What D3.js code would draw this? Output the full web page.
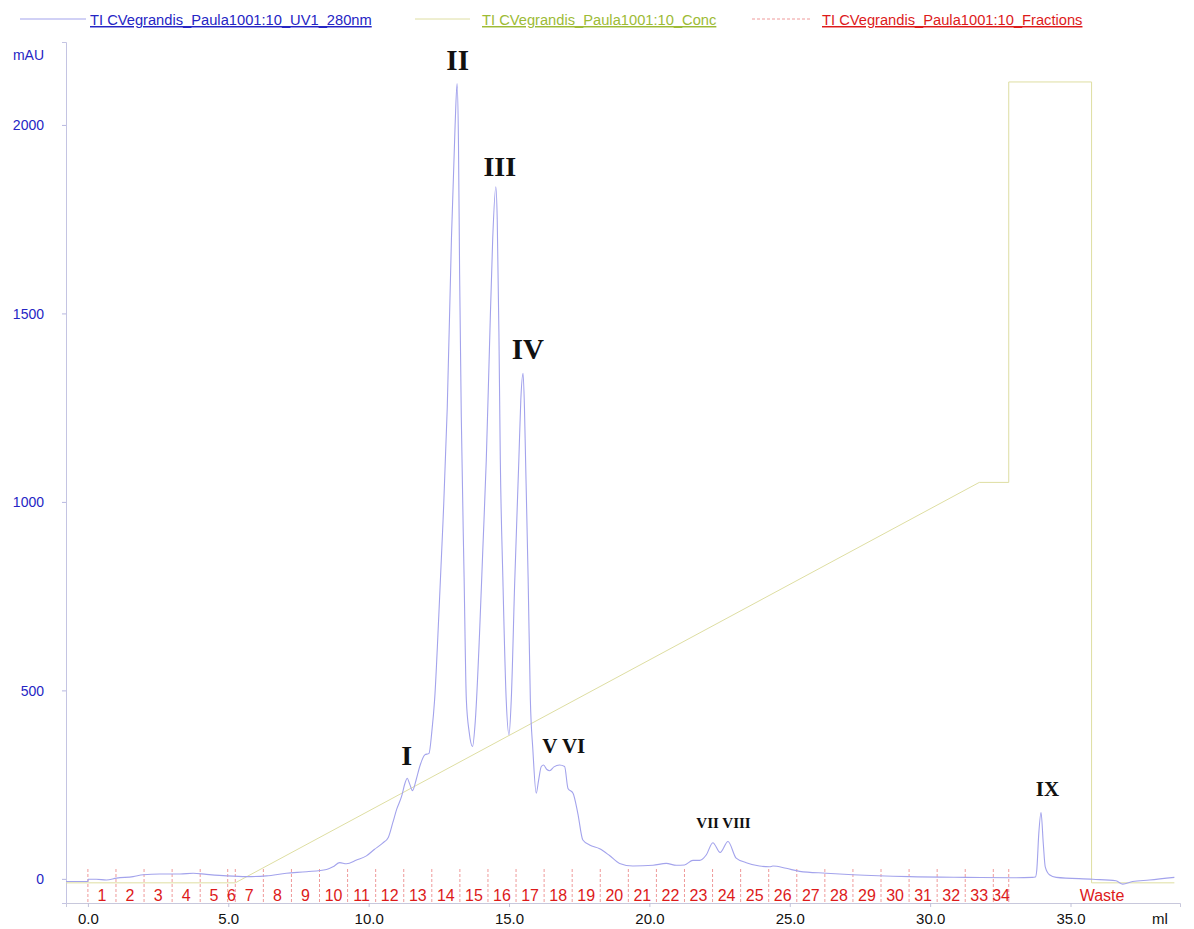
<!DOCTYPE html>
<html><head><meta charset="utf-8">
<script src="https://cdn.jsdelivr.net/npm/d3@7/dist/d3.min.js"></script>
<style>
body{margin:0;background:#fff;}
svg{display:block;}
</style>
</head><body>
<svg id="chart" width="1194" height="929"></svg>
<script>
// ---------- data ----------
const uvVolume = [-0.78,0.0,0.01,0.3,0.66,1.02,1.61,1.97,2.56,3.28,3.75,4.22,4.94,5.65,6.36,7.07,7.79,8.5,8.73,8.97,9.21,9.57,9.92,10.2,10.5,10.7,10.86,11.0,11.17,11.3,11.37,11.47,11.56,11.7,11.82,12.0,12.15,12.25,12.35,12.5,12.65,12.8,12.95,13.08,13.15,13.2,13.24,13.3,13.4,13.48,13.58,13.7,13.8,13.95,14.07,14.19,14.3,14.42,14.53,14.58,14.64,14.69,14.78,14.9,15.0,15.08,15.2,15.35,15.42,15.5,15.55,15.59,15.68,15.76,15.85,15.97,16.05,16.15,16.23,16.35,16.45,16.6,16.8,16.98,17.1,17.28,17.45,17.63,17.87,18.23,18.58,18.94,19.41,20.13,20.6,20.96,21.25,21.55,21.79,22.03,22.26,22.52,22.8,23.09,23.45,23.92,24.28,24.4,24.87,25.35,26.3,27.25,29.26,31.28,32.82,33.64,33.75,33.8,33.87,33.95,34.03,34.1,34.25,34.49,35.79,36.62,36.86,37.21,37.81,38.7];
const uvAbsorbance = [-7,-7,-1,-1,-3,2,6,11,13,13,15,12,8,6,8,15,19,25,32,43,40,50,61,78,95,110,149,185,218,255,267,250,234,265,298,329,333,390,475,700,950,1250,1700,2000,2110,1950,1607,1226,800,475,390,351,420,650,880,1111,1400,1700,1836,1750,1450,1111,800,475,382,475,780,1111,1270,1341,1250,1111,800,475,342,227,260,298,302,290,287,297,302,298,240,227,174,103,90,80,62,41,34,36,41,36,37,49,49,64,96,70,99,55,43,34,32,34,28,20,15,11,6,4,3,4,5,25,120,176,94,32,11,4,-1,-5,-14,-7,-3,4];

const concVolume = [-0.78,5.25,31.75,32.8,32.8,35.75,35.75,38.7];
const concPercent = [0,0,50,50,100,100,0,0];

const fractionLabels = ["1","2","3","4","5","6","7","8","9","10","11","12","13","14","15","16","17","18","19","20","21","22","23","24","25","26","27","28","29","30","31","32","33","34","Waste"];
const fractionStart = [0,1,2,3,4,4.98,5.25,6.25,7.25,8.25,9.25,10.25,11.25,12.25,13.25,14.25,15.25,16.25,17.25,18.25,19.25,20.25,21.25,22.25,23.25,24.25,25.25,26.25,27.25,28.25,29.25,30.25,31.25,32.25,32.8];
const fractionEnd = [1,2,3,4,4.98,5.25,6.25,7.25,8.25,9.25,10.25,11.25,12.25,13.25,14.25,15.25,16.25,17.25,18.25,19.25,20.25,21.25,22.25,23.25,24.25,25.25,26.25,27.25,28.25,29.25,30.25,31.25,32.25,32.8,39.45];

const xTicks = [0,5,10,15,20,25,30,35];
const yTicks = [0,500,1000,1500,2000];

const peakLabels = ["I","II","III","IV","V VI","VII VIII","IX"];
const peakVolume = [11.36,13.17,14.67,15.67,16.95,22.64,34.18];
const peakLevel = [302,2146,1865,1379,334,135,220];

const legendLabels = ["TI CVegrandis_Paula1001:10_UV1_280nm","TI CVegrandis_Paula1001:10_Conc","TI CVegrandis_Paula1001:10_Fractions"];

// ---------- layout / styles ----------
const W = 1194, H = 929;
const plot = {left:66, right:1180, top:42, bottom:903};
const colUV = "#a3a3ec", colUVText = "#2525c4";
const colConc = "#dedea2", colConcText = "#9dbb35";
const colFrac = "#ef9a9a", colFracText = "#dd1a1a";
const sans = "'Liberation Sans', Arial, sans-serif";
const serif = "'Liberation Serif', 'Times New Roman', serif";

const svg = d3.select("#chart");

const x = d3.scaleLinear().domain([-0.78, 38.9]).range([plot.left, plot.right]);
const y = d3.scaleLinear().domain([-64, 2220]).range([plot.bottom, plot.top]);
const yConc = d3.scaleLinear().domain([0, 100]).range([y(-10.5), y(2114)]);

// axes
const yAxis = d3.axisLeft(y).tickValues(yTicks).tickSize(4).tickFormat(d3.format("d"));
const gy = svg.append("g").attr("transform", `translate(${plot.left},0)`).call(yAxis);
gy.select(".domain").attr("stroke", "#c4c4e2");
gy.selectAll(".tick line").attr("stroke", "#b8b8e0");
gy.selectAll(".tick text").attr("fill", colUVText).attr("font-family", sans).attr("font-size", 14)
  .attr("x", -(plot.left - 44)).attr("dy", "0.36em");

const xAxis = d3.axisBottom(x).tickValues(xTicks).tickSize(4).tickFormat(d3.format(".1f"));
const gx = svg.append("g").attr("transform", `translate(0,${plot.bottom})`).call(xAxis);
gx.select(".domain").attr("stroke", "#c8c8dc");
gx.selectAll(".tick line").attr("stroke", "#c0c0d8");
gx.selectAll(".tick text").attr("fill", "#111").attr("font-family", sans).attr("font-size", 15)
  .attr("y", 21).attr("dy", 0);

svg.append("text").attr("x", 44).attr("y", 60).attr("text-anchor", "end")
  .attr("font-family", sans).attr("font-size", 14).attr("fill", colUVText).text("mAU");
svg.append("text").attr("x", 1160).attr("y", 924).attr("text-anchor", "middle")
  .attr("font-family", sans).attr("font-size", 15).attr("fill", "#111").text("ml");

// fractions
const fracG = svg.append("g");
fracG.selectAll("line").data(fractionStart).join("line")
  .attr("x1", d => x(d)).attr("x2", d => x(d))
  .attr("y1", plot.bottom - 34).attr("y2", plot.bottom)
  .attr("stroke", colFrac).attr("stroke-width", 1).attr("stroke-dasharray", "3,2");
fracG.selectAll("text").data(fractionLabels).join("text")
  .attr("x", (d, i) => x((fractionStart[i] + fractionEnd[i]) / 2))
  .attr("y", 901).attr("text-anchor", "middle")
  .attr("font-family", sans).attr("font-size", 16).attr("fill", colFracText).text(d => d);

// concentration
const concData = concVolume.map((v, i) => [v, concPercent[i]]);
svg.append("path").datum(concData)
  .attr("d", d3.line().x(d => x(d[0])).y(d => yConc(d[1])))
  .attr("fill", "none").attr("stroke", colConc).attr("stroke-width", 1);

// UV
const uvData = uvVolume.map((v, i) => [v, uvAbsorbance[i]]);
svg.append("path").datum(uvData)
  .attr("d", d3.line().x(d => x(d[0])).y(d => y(d[1])).curve(d3.curveMonotoneX))
  .attr("fill", "none").attr("stroke", colUV).attr("stroke-width", 1.1);

// peak labels
const peakSizes = [28, 29, 28, 29, 21, 15, 21];
svg.append("g").selectAll("text").data(peakLabels).join("text")
  .attr("x", (d, i) => x(peakVolume[i])).attr("y", (d, i) => y(peakLevel[i]))
  .attr("text-anchor", "middle").attr("font-family", serif).attr("font-weight", "bold")
  .attr("font-size", (d, i) => peakSizes[i]).attr("fill", "#111").text(d => d);

// legend
const legendLine = [[20, 86], [415, 470], [752, 812]];
const legendTextX = [90, 482, 822];
const legendStroke = [colUV, colConc, colFrac];
const legendFill = [colUVText, colConcText, colFracText];
const lg = svg.append("g");
legendLabels.forEach((t, i) => {
  lg.append("line").attr("x1", legendLine[i][0]).attr("x2", legendLine[i][1])
    .attr("y1", 19).attr("y2", 19).attr("stroke", legendStroke[i]).attr("stroke-width", 1)
    .attr("stroke-dasharray", i === 2 ? "3,2" : null);
  lg.append("text").attr("x", legendTextX[i]).attr("y", 25)
    .attr("font-family", sans).attr("font-size", 14.7).attr("fill", legendFill[i])
    .attr("text-decoration", "underline").text(t);
});
</script>
</body></html>
